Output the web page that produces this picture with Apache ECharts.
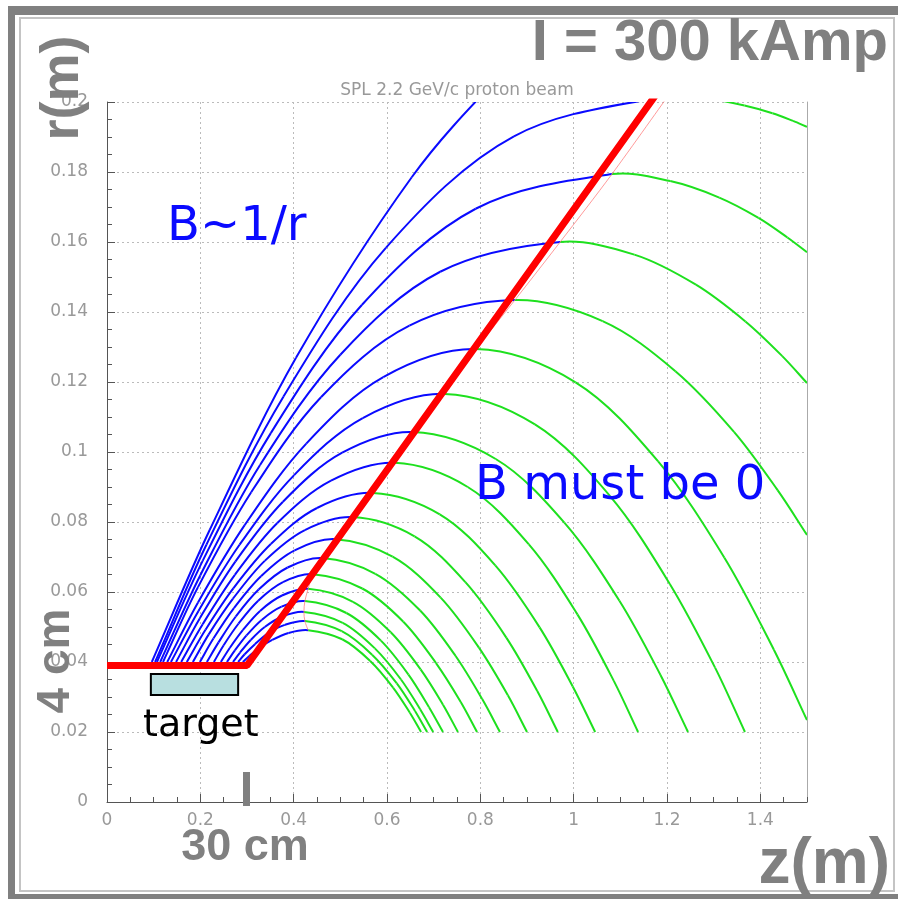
<!DOCTYPE html>
<html>
<head>
<meta charset="utf-8">
<script src="https://cdn.jsdelivr.net/npm/echarts/dist/echarts.min.js"></script>
<style>
  html, body { margin: 0; padding: 0; background: #ffffff; }
  #chart { width: 898px; height: 899px; }
</style>
</head>
<body>
<div id="chart"></div>
<script>
// Axis ranges (metres)
const zRange = [0, 1.5];
const rRange = [0, 0.2];
const zStep = 0.2, zMinorStep = 0.05;
const rStep = 0.02, rMinorStep = 0.005;

// Trajectories inside the horn field (B ~ 1/r): from the target surface up to the turning point
const risingPaths = [
  [[0.291,0.0400],[0.305,0.0417],[0.326,0.0440],[0.354,0.0463],[0.389,0.0483],[0.431,0.0491]],
  [[0.281,0.0400],[0.295,0.0422],[0.317,0.0451],[0.345,0.0482],[0.381,0.0506],[0.424,0.0517]],
  [[0.270,0.0400],[0.285,0.0427],[0.308,0.0463],[0.338,0.0500],[0.376,0.0530],[0.422,0.0543]],
  [[0.257,0.0400],[0.274,0.0433],[0.299,0.0476],[0.332,0.0521],[0.374,0.0558],[0.424,0.0574]],
  [[0.244,0.0400],[0.263,0.0440],[0.291,0.0491],[0.328,0.0546],[0.375,0.0590],[0.431,0.0609]],
  [[0.229,0.0400],[0.250,0.0448],[0.282,0.0510],[0.324,0.0575],[0.377,0.0628],[0.441,0.0651]],
  [[0.214,0.0400],[0.239,0.0456],[0.276,0.0530],[0.325,0.0607],[0.387,0.0670],[0.461,0.0697]],
  [[0.199,0.0400],[0.228,0.0467],[0.272,0.0554],[0.330,0.0645],[0.402,0.0719],[0.489,0.0751]],
  [[0.184,0.0400],[0.218,0.0479],[0.270,0.0581],[0.338,0.0689],[0.424,0.0777],[0.527,0.0814]],
  [[0.171,0.0400],[0.211,0.0492],[0.271,0.0611],[0.351,0.0737],[0.450,0.0840],[0.570,0.0883]],
  [[0.159,0.0400],[0.205,0.0508],[0.274,0.0649],[0.365,0.0797],[0.480,0.0918],[0.617,0.0969]],
  [[0.148,0.0400],[0.199,0.0525],[0.275,0.0687],[0.377,0.0858],[0.504,0.0998],[0.656,0.1057]],
  [[0.137,0.0400],[0.196,0.0546],[0.284,0.0735],[0.401,0.0934],[0.548,0.1097],[0.724,0.1166]],
  [[0.129,0.0400],[0.195,0.0570],[0.295,0.0791],[0.427,0.1024],[0.592,0.1214],[0.791,0.1294]],
  [[0.120,0.0400],[0.195,0.0614],[0.309,0.0885],[0.459,0.1157],[0.648,0.1361],[0.874,0.1434]],
  [[0.114,0.0400],[0.200,0.0648],[0.328,0.0963],[0.500,0.1278],[0.714,0.1515],[0.971,0.1600]],
  [[0.107,0.0400],[0.205,0.0689],[0.351,0.1054],[0.546,0.1420],[0.790,0.1695],[1.082,0.1794]],
  [[0.103,0.0400],[0.213,0.0735],[0.378,0.1158],[0.598,0.1584],[0.872,0.1902],[1.202,0.2017]],
  [[0.096,0.0400],[0.220,0.0777],[0.405,0.1269],[0.653,0.1785],[0.838,0.2068],[0.990,0.2250]]
];

// The same trajectories continued past the turning point as if the field stayed on
const fallingPaths = [
  [[0.431,0.0491],[0.504,0.0465],[0.564,0.0403],[0.613,0.0327],[0.649,0.0255],[0.673,0.0200]],
  [[0.424,0.0517],[0.503,0.0488],[0.568,0.0421],[0.621,0.0339],[0.660,0.0260],[0.686,0.0200]],
  [[0.422,0.0543],[0.505,0.0512],[0.574,0.0439],[0.630,0.0350],[0.671,0.0265],[0.699,0.0200]],
  [[0.424,0.0574],[0.513,0.0540],[0.587,0.0461],[0.646,0.0364],[0.690,0.0271],[0.720,0.0200]],
  [[0.431,0.0609],[0.527,0.0572],[0.608,0.0485],[0.672,0.0379],[0.720,0.0278],[0.752,0.0200]],
  [[0.441,0.0651],[0.547,0.0610],[0.635,0.0515],[0.705,0.0397],[0.758,0.0286],[0.793,0.0200]],
  [[0.461,0.0697],[0.575,0.0652],[0.671,0.0547],[0.747,0.0417],[0.804,0.0294],[0.842,0.0200]],
  [[0.489,0.0751],[0.612,0.0701],[0.715,0.0584],[0.797,0.0441],[0.859,0.0305],[0.900,0.0200]],
  [[0.527,0.0814],[0.659,0.0759],[0.768,0.0628],[0.856,0.0469],[0.922,0.0317],[0.966,0.0200]],
  [[0.570,0.0883],[0.713,0.0822],[0.832,0.0676],[0.927,0.0499],[0.998,0.0330],[1.046,0.0200]],
  [[0.617,0.0969],[0.773,0.0900],[0.904,0.0736],[1.008,0.0536],[1.086,0.0346],[1.138,0.0200]],
  [[0.656,0.1057],[0.833,0.0980],[0.980,0.0798],[1.098,0.0575],[1.186,0.0363],[1.245,0.0200]],
  [[0.724,0.1166],[0.917,0.1079],[1.078,0.0874],[1.206,0.0623],[1.303,0.0384],[1.367,0.0200]],
  [[0.791,0.1294],[1.004,0.1199],[1.181,0.0973],[1.323,0.0698],[1.429,0.0435],[1.500,0.0234]],
  [[0.874,0.1434],[1.062,0.1374],[1.218,0.1231],[1.344,0.1057],[1.437,0.0891],[1.500,0.0763]],
  [[0.971,0.1600],[1.130,0.1564],[1.262,0.1478],[1.368,0.1373],[1.447,0.1274],[1.500,0.1197]],
  [[1.082,0.1794],[1.207,0.1774],[1.312,0.1727],[1.396,0.1669],[1.458,0.1613],[1.500,0.1571]],
  [[1.202,0.2017],[1.291,0.2009],[1.366,0.1990],[1.426,0.1968],[1.470,0.1946],[1.500,0.1929]]
];

// Horn inner conductor profile (z, r)
const hornProfile = [[0, 0.039], [0.3, 0.039], [1.2, 0.2065]];

// Target extent
const targetZ = [0.094, 0.281];
const targetR = [0.0306, 0.0366];

// Field boundary through the turning points
const fieldEdge = fallingPaths.map(p => p[0]);

// Whole trajectory: rising part followed by the falling part (if any)
const trajectories = risingPaths.map((p, i) => fallingPaths[i] ? p.concat(fallingPaths[i].slice(1)) : p);

const BLUE = '#0a0aff';
const GREEN = '#1ee01e';
const GREY = '#808080';

// Smooth curve through the trajectory points (tangents from neighbouring points),
// blue up to the turning point and green after it.
function renderTrajectory(params, api) {
  const idx = api.value(2);
  const turn = risingPaths[idx].length - 1;
  const pts = trajectories[idx].map(p => api.coord(p));
  const n = pts.length;
  const dist = (a, b) => Math.hypot(b[0] - a[0], b[1] - a[1]);
  const tan = pts.map((p, i) => {
    const a = pts[Math.max(i - 1, 0)], b = pts[Math.min(i + 1, n - 1)];
    const s = dist(a, b) || 1;
    return [(b[0] - a[0]) / s, (b[1] - a[1]) / s];
  });
  const children = [];
  for (let i = 0; i < n - 1; i++) {
    const p = pts[i], q = pts[i + 1];
    const h = dist(p, q) / 3;
    children.push({
      type: 'bezierCurve',
      shape: {
        x1: p[0], y1: p[1], x2: q[0], y2: q[1],
        cpx1: p[0] + tan[i][0] * h, cpy1: p[1] + tan[i][1] * h,
        cpx2: q[0] - tan[i + 1][0] * h, cpy2: q[1] - tan[i + 1][1] * h
      },
      style: { stroke: i < turn ? BLUE : GREEN, lineWidth: 2, fill: null },
      z2: i < turn ? 2 : 1
    });
  }
  return { type: 'group', children: children };
}

function path(data, color, width, z) {
  return {
    type: 'line', data: data, xAxisIndex: 0, yAxisIndex: 0,
    showSymbol: false, symbol: 'none', smooth: false, clip: true,
    silent: true, z: z,
    lineStyle: { color: color, width: width }
  };
}

const series = [
  {
    type: 'custom', coordinateSystem: 'cartesian2d', xAxisIndex: 0, yAxisIndex: 0,
    clip: true, silent: true, z: 3,
    encode: { x: 0, y: 1 },
    data: trajectories.map((t, i) => [t[0][0], t[0][1], i]),
    renderItem: renderTrajectory
  },
  Object.assign(path(fieldEdge, 'rgba(255,120,120,0.75)', 1, 4), { smooth: 0.3 }),
  path(hornProfile, '#ff0000', 7, 5),
  {
    type: 'line', data: [], xAxisIndex: 0, yAxisIndex: 0, z: 6, silent: true,
    markArea: {
      silent: true,
      label: { show: false },
      itemStyle: { color: '#b8dfe0', borderColor: '#000000', borderWidth: 2, opacity: 1 },
      data: [[{ coord: [targetZ[0], targetR[1]] }, { coord: [targetZ[1], targetR[0]] }]]
    }
  }
];

function txt(x, y, text, font, fill, align, rotation) {
  return {
    type: 'text', x: x, y: y, rotation: rotation || 0, z: 100, silent: true,
    style: {
      text: text, font: font, fill: fill,
      align: align, textAlign: align,
      verticalAlign: 'middle', textVerticalAlign: 'middle'
    }
  };
}

const bigFont = s => 'bold ' + s + 'px "Liberation Sans", Arial, sans-serif';
const handFont = s => s + 'px "Comic Sans MS", "DejaVu Sans", sans-serif';

const graphic = [
  // slide frame
  { type: 'rect', shape: { x: 8, y: 6, width: 890, height: 9 }, style: { fill: GREY }, z: 90, silent: true },
  { type: 'rect', shape: { x: 8, y: 6, width: 7, height: 893 }, style: { fill: GREY }, z: 90, silent: true },
  { type: 'rect', shape: { x: 8, y: 894, width: 890, height: 5 }, style: { fill: GREY }, z: 90, silent: true },
  { type: 'rect', shape: { x: 20, y: 18, width: 874, height: 873 },
    style: { fill: 'none', stroke: '#c4c4c4', lineWidth: 2 }, z: 90, silent: true },
  // marker at z = 30 cm
  { type: 'rect', shape: { x: 243, y: 772, width: 7, height: 34 }, style: { fill: GREY }, z: 95, silent: true },
  // plot title
  txt(457, 91, 'SPL 2.2 GeV/c proton beam', '17px "DejaVu Sans", sans-serif', '#999999', 'center'),
  // annotations
  txt(888, 44, 'I = 300 kAmp', bigFont(58), GREY, 'right'),
  txt(63, 88, 'r(m)', bigFont(54), GREY, 'center', Math.PI / 2),
  txt(56, 661, '4 cm', bigFont(46), GREY, 'center', Math.PI / 2),
  txt(245, 848, '30 cm', bigFont(45), GREY, 'center'),
  txt(890, 865, 'z(m)', bigFont(64), GREY, 'right'),
  txt(167, 228, 'B~1/r', handFont(48), BLUE, 'left'),
  txt(475, 487, 'B must be 0', handFont(48), BLUE, 'left'),
  txt(143, 726, 'target', handFont(38), '#000000', 'left')
];

const labelStyle = { color: '#999999', fontSize: 17, fontFamily: '"DejaVu Sans", sans-serif' };
const gridLine = { show: true, lineStyle: { color: '#bbbbbb', width: 1, type: [2, 3] } };
const axisDark = { color: '#555555', width: 1 };

const option = {
  animation: false,
  backgroundColor: '#ffffff',
  grid: { left: 107, top: 102, width: 700, height: 700, containLabel: false, outerBoundsMode: 'none' },
  xAxis: [
    {
      type: 'value', min: zRange[0], max: zRange[1], interval: zStep, position: 'bottom',
      axisLine: { show: true, onZero: false, lineStyle: axisDark },
      axisTick: { show: true, inside: true, length: 8, lineStyle: axisDark },
      axisLabel: Object.assign({ margin: 10, showMaxLabel: false, hideOverlap: false }, labelStyle),
      splitLine: gridLine
    },
    {
      type: 'value', min: zRange[0], max: zRange[1], interval: zMinorStep, position: 'bottom',
      axisLine: { show: false }, axisLabel: { show: false }, splitLine: { show: false },
      axisTick: { show: true, inside: true, length: 5, lineStyle: axisDark }
    }
  ],
  yAxis: [
    {
      type: 'value', min: rRange[0], max: rRange[1], interval: rStep, position: 'left',
      axisLine: { show: true, onZero: false, lineStyle: axisDark },
      axisTick: { show: true, inside: true, length: 8, lineStyle: axisDark },
      axisLabel: Object.assign({ margin: 19, hideOverlap: false }, labelStyle),
      splitLine: gridLine
    },
    {
      type: 'value', min: rRange[0], max: rRange[1], interval: rMinorStep, position: 'left',
      axisLine: { show: false }, axisLabel: { show: false }, splitLine: { show: false },
      axisTick: { show: true, inside: true, length: 5, lineStyle: axisDark }
    },
    {
      type: 'value', min: rRange[0], max: rRange[1], position: 'right',
      axisLine: { show: true, onZero: false, lineStyle: { color: '#aaaaaa', width: 1 } },
      axisTick: { show: false }, axisLabel: { show: false }, splitLine: { show: false }
    }
  ],
  series: series,
  graphic: graphic
};

const chart = echarts.init(document.getElementById('chart'), null, { renderer: 'canvas' });
chart.setOption(option);
</script>
</body>
</html>
